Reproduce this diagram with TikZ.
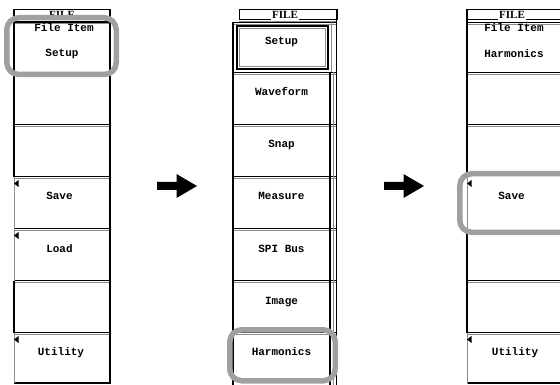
\documentclass[tikz,border=0pt]{standalone}
\usepackage{fontspec}
\newfontfamily\monof{Liberation Mono}
\newfontfamily\seriff{Liberation Serif}
\definecolor{hlgray}{RGB}{160,160,160}
\definecolor{lgray}{RGB}{140,140,140}
\newcommand\sepline[3]{\draw[blk] (#1,#3) -- (#2,#3); \draw[gry] (#1,#3+1.8) -- (#2,#3+1.8);}
\begin{document}
\begin{tikzpicture}[x=1pt,y=-1pt,
 lbl/.style={font=\monof\bfseries\fontsize{11}{11}\selectfont, anchor=base, inner sep=0pt},
 hdr/.style={font=\seriff\bfseries\fontsize{11}{11}\selectfont, anchor=base, inner sep=0pt},
 blk/.style={line width=1.4pt, black},
 gry/.style={line width=0.9pt, lgray},
 thinedge/.style={line width=0.8pt, lgray},
 hl/.style={draw=hlgray, line width=5.5pt, rounded corners=12pt},
 tri/.style={fill=black},
 bigarrow/.style={fill=black}]
\useasboundingbox (0,0) rectangle (560,385);

% ---------------- left panel ----------------
\draw[black, line width=1pt] (14,20) -- (14,9.5) -- (110,9.5) -- (110,20);
\node[hdr] (lhdr) at (62,19) {FILE};
\draw[black, line width=1pt] (14,20) -- (48,20) (76,20) -- (110,20);
\sepline{14}{110}{22}
\foreach \yy in {124.5,176.5,228.5,280.5,332.5}{\sepline{14}{110}{\yy}}
\draw[blk] (14,383) -- (110,383);
\draw[blk] (14,9.5) -- (14,177);
\draw[thinedge] (14,177) -- (14,281);
\draw[blk] (14,281) -- (14,333);
\draw[thinedge] (14,333) -- (14,383);
\draw[blk] (110,9.5) -- (110,383.7);
\fill[tri] (14,183.5) -- (18.5,180) -- (18.5,187) -- cycle;
\fill[tri] (14,235.5) -- (18.5,232) -- (18.5,239) -- cycle;
\fill[tri] (14,339.5) -- (18.5,336) -- (18.5,343) -- cycle;
\node[lbl] (lfi) at (64,32) {File Item};
\node[lbl] (lsetup) at (62,57) {Setup};
\node[lbl] (lsave) at (59.5,200) {Save};
\node[lbl] (lload) at (59.5,252) {Load};
\node[lbl] (lutil) at (61,355) {Utility};
\draw[hl] (6.75,17.75) rectangle (116.25,74.5);

% ---------------- arrows ----------------
\fill[bigarrow] (157,182) -- (176.5,182) -- (176.5,174) -- (197,186) -- (176.5,198) -- (176.5,190) -- (157,190) -- cycle;
\fill[bigarrow] (384,182) -- (403.5,182) -- (403.5,174) -- (424,186) -- (403.5,198) -- (403.5,190) -- (384,190) -- cycle;

% ---------------- middle panel ----------------
\draw[black, line width=1pt] (239,20) -- (239,9.5) -- (337,9.5) -- (337,20);
\node[hdr] (mhdr) at (285,19) {FILE};
\draw[black, line width=1pt] (239,20) -- (271,20) (299,20) -- (337,20);
\draw[gry] (239,21.2) -- (337,21.2);
\foreach \yy in {22.5,72.5,124.5,176.5,228.5,280.5,332.5}{\sepline{233}{337}{\yy}}
\draw[blk] (233,22) -- (233,385);
% scrollbar
\draw[gry] (331.5,22) -- (331.5,72);
\draw[blk, line width=1.8pt] (330,72) -- (330,385);
\draw[gry] (333,72) -- (333,385);
\draw[black, line width=1pt] (336.5,9.5) -- (336.5,385);
% raised Setup button
\draw[black, line width=2pt] (237,26) rectangle (328,69);
\draw[lgray, line width=0.8pt] (239.5,28.5) rectangle (325.5,66.5);
\node[lbl] (msetup) at (281.5,45) {Setup};
\node[lbl] (mwave) at (281.5,96) {Waveform};
\node[lbl] (msnap) at (281.5,148) {Snap};
\node[lbl] (mmeas) at (281.5,200) {Measure};
\node[lbl] (mspi) at (281.5,252) {SPI Bus};
\node[lbl] (mimg) at (281.5,304) {Image};
\node[lbl] (mharm) at (281.5,355) {Harmonics};
\draw[hl] (229.75,329.75) rectangle (335.25,380.75);

% ---------------- right panel ----------------
\draw[black, line width=1pt] (467,20) -- (467,9.5) -- (565,9.5);
\node[hdr] (rhdr) at (512,19) {FILE};
\draw[black, line width=1pt] (467,20) -- (498,20) (526,20) -- (565,20);
\foreach \yy in {22.5,72.5,124.5,280.5,332.5}{\sepline{467}{565}{\yy}}
\draw[blk] (467,383) -- (565,383);
\draw[blk] (467,9.5) -- (467,177);
\draw[thinedge] (467,177) -- (467,229);
\draw[blk] (467,229) -- (467,333);
\draw[thinedge] (467,333) -- (467,383.7);
\fill[tri] (467,183.5) -- (471.5,180) -- (471.5,187) -- cycle;
\fill[tri] (467,339.5) -- (471.5,336) -- (471.5,343) -- cycle;
\node[lbl] (rfi) at (514,32) {File Item};
\node[lbl] (rharm) at (514,58) {Harmonics};
\node[lbl] (rsave) at (511.5,200) {Save};
\node[lbl] (rutil) at (515,355) {Utility};
\draw[hl] (459.75,173.75) rectangle (575,232.25);
\end{tikzpicture}
\end{document}
